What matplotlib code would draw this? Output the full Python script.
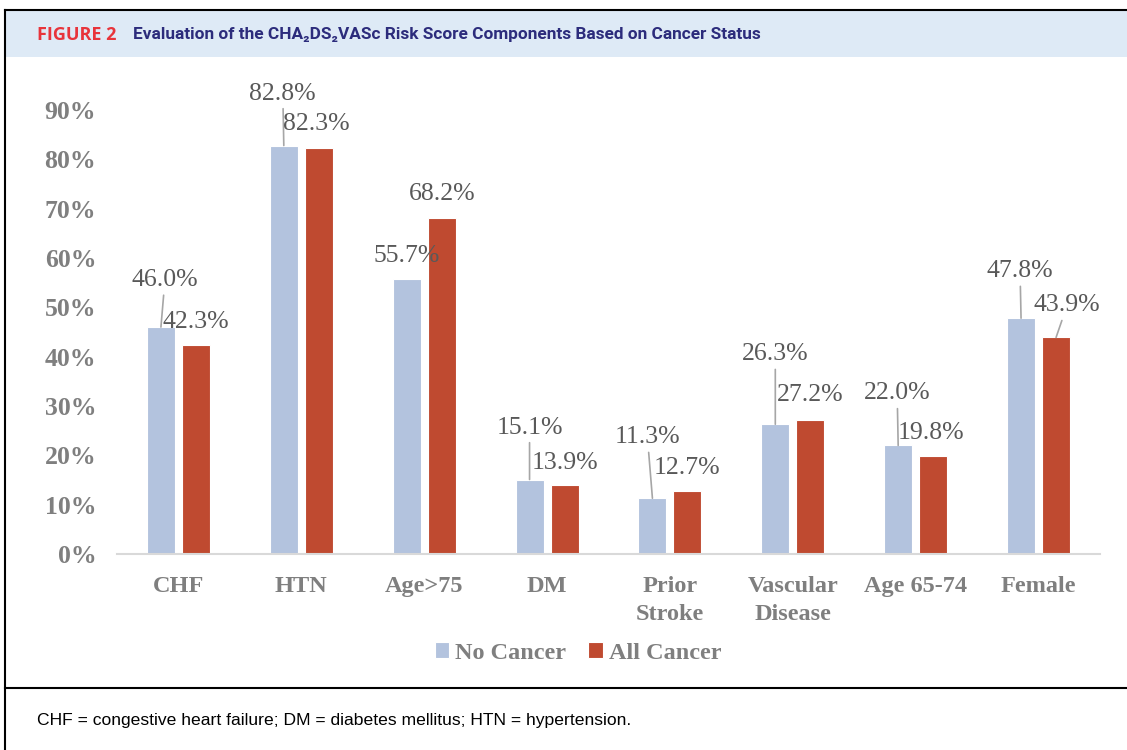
import matplotlib
matplotlib.use('Agg')
import matplotlib.pyplot as plt
import numpy as np
from matplotlib.lines import Line2D
from matplotlib.patches import Rectangle

categories = ['CHF', 'HTN', 'Age>75', 'DM', 'Prior\nStroke', 'Vascular\nDisease', 'Age 65-74', 'Female']
no_cancer = [46.0, 82.8, 55.7, 15.1, 11.3, 26.3, 22.0, 47.8]
all_cancer = [42.3, 82.3, 68.2, 13.9, 12.7, 27.2, 19.8, 43.9]
series_names = ['No Cancer', 'All Cancer']
yticks = [0, 10, 20, 30, 40, 50, 60, 70, 80, 90]

# label offsets in pixels (dx, dy) from bar top, and whether a leader line is drawn
blue_offsets = [(4, 47, True), (-1, 52, True), (0, 23, False), (0, 52, True),
                (-5, 61, True), (0, 70, True), (-1, 52, True), (-1, 47, True)]
red_offsets = [(0, 23, False), (-3, 24, False), (0, 24, False), (0, 22, False),
               (0, 23, False), (0, 25, False), (-2, 23, False), (11, 32, True)]

blue = '#b3c3de'
red = '#bf4a30'
label_gray = '#595959'
axis_gray = '#7f7f7f'
serif = ['Liberation Serif', 'DejaVu Serif']

fig = plt.figure(figsize=(11.27, 7.5), dpi=100)
W, H = 1127, 750

# frame, header band and caption separator
fig.patches.append(Rectangle((5 / W, (H - 57) / H), 1 - 5 / W, 47 / H, transform=fig.transFigure,
                             facecolor='#deeaf6', edgecolor='none', zorder=0))
fig.add_artist(Line2D([5 / W, 1], [(H - 10) / H] * 2, color='black', lw=1.5))
fig.add_artist(Line2D([5 / W] * 2, [0, (H - 10) / H], color='black', lw=1.5))
fig.add_artist(Line2D([5 / W, 1], [(H - 688) / H] * 2, color='black', lw=1.5))

fig.text(37 / W, (H - 35) / H, 'FIGURE 2', color='#e8343b', fontsize=13, fontweight='bold',
         family='Open Sans', va='center')
fig.text(133 / W, (H - 35) / H,
         'Evaluation of the CHA\u2082DS\u2082VASc Risk Score Components Based on Cancer Status',
         color='#2c2c7c', fontsize=12.4, fontweight='bold', family='Roboto', va='center')
fig.text(37 / W, (H - 720) / H,
         'CHF = congestive heart failure; DM = diabetes mellitus; HTN = hypertension.',
         color='black', fontsize=12.6, family='Liberation Sans', va='center')

ax = fig.add_axes([117 / W, (H - 554) / H, (1100 - 117) / W, (554 - 110) / H])
x = np.arange(len(categories))
w = 0.228
off = 0.1425
b1 = ax.bar(x - off, no_cancer, w, color=blue, edgecolor='white', linewidth=0.8, label=series_names[0])
b2 = ax.bar(x + off, all_cancer, w, color=red, edgecolor='white', linewidth=0.8, label=series_names[1])

ax.set_xlim(-0.5, len(categories) - 0.5)
ax.set_ylim(0, 90)
ax.set_yticks(yticks)
ax.set_yticklabels(['%d%%' % t for t in yticks], family=serif, fontweight='bold',
                   fontsize=18.5, color=axis_gray)
ax.set_xticks(x)
ax.set_xticklabels(categories, family=serif, fontweight='bold', fontsize=17.5,
                   color=axis_gray, linespacing=1.4, va='top')
ax.tick_params(axis='both', length=0)
ax.tick_params(axis='y', pad=15)
ax.tick_params(axis='x', pad=16)
for s in ['top', 'right', 'left']:
    ax.spines[s].set_visible(False)
ax.spines['bottom'].set_color('#d9d9d9')
ax.spines['bottom'].set_linewidth(1.5)

def add_labels(bars, vals, offsets):
    for rect, v, (dx, dy, leader) in zip(bars, vals, offsets):
        xc = rect.get_x() + rect.get_width() / 2
        kw = {}
        if leader:
            kw['arrowprops'] = dict(arrowstyle='-', color='#a6a6a6', lw=1.2, shrinkA=1, shrinkB=0)
        ax.annotate('%.1f%%' % v, xy=(xc, v), xytext=(dx, dy), textcoords='offset pixels',
                    ha='center', va='center', family=serif, fontsize=18.5, color=label_gray,
                    annotation_clip=False, **kw)

add_labels(b1, no_cancer, blue_offsets)
add_labels(b2, all_cancer, red_offsets)

leg = fig.legend(handles=[b1, b2], labels=series_names, loc='center', bbox_to_anchor=(578 / W, (H - 653) / H),
                 ncol=2, frameon=False, handlelength=0.6, handleheight=0.6, handletextpad=0.25,
                 columnspacing=0.9, prop={'family': serif, 'weight': 'bold', 'size': 17.5})
for t in leg.get_texts():
    t.set_color(axis_gray)

fig.savefig('out.png', dpi=100)
